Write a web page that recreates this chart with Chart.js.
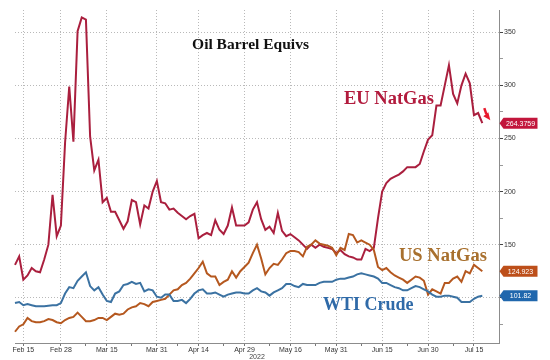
<!DOCTYPE html>
<html><head><meta charset="utf-8">
<script src="https://cdn.jsdelivr.net/npm/chart.js@4.4.1/dist/chart.umd.min.js"></script>
<style>html,body{margin:0;padding:0;background:#fff}#wrap{width:550px;height:360px;position:relative}canvas{display:block}</style>
</head><body><div id="wrap"><canvas id="c" width="550" height="360" style="width:550px;height:360px"></canvas></div>
<script>
// ---- DATA ----
const categories = [
 'Feb 11','Feb 14','Feb 15','Feb 16','Feb 17','Feb 18','Feb 21','Feb 22','Feb 23','Feb 24','Feb 25','Feb 28',
 'Mar 1','Mar 2','Mar 3','Mar 4','Mar 7','Mar 8','Mar 9','Mar 10','Mar 11','Mar 14','Mar 15','Mar 16','Mar 17','Mar 18','Mar 21','Mar 22','Mar 23','Mar 24','Mar 25','Mar 28','Mar 29','Mar 30','Mar 31',
 'Apr 1','Apr 4','Apr 5','Apr 6','Apr 7','Apr 8','Apr 11','Apr 12','Apr 13','Apr 14','Apr 15','Apr 18','Apr 19','Apr 20','Apr 21','Apr 22','Apr 25','Apr 26','Apr 27','Apr 28','Apr 29',
 'May 2','May 3','May 4','May 5','May 6','May 9','May 10','May 11','May 12','May 13','May 16','May 17','May 18','May 19','May 20','May 23','May 24','May 25','May 26','May 27','May 30','May 31',
 'Jun 1','Jun 2','Jun 3','Jun 6','Jun 7','Jun 8','Jun 9','Jun 10','Jun 13','Jun 14','Jun 15','Jun 16','Jun 17','Jun 20','Jun 21','Jun 22','Jun 23','Jun 24','Jun 27','Jun 28','Jun 29','Jun 30',
 'Jul 1','Jul 4','Jul 5','Jul 6','Jul 7','Jul 8','Jul 11','Jul 12','Jul 13','Jul 14','Jul 15','Jul 18','Jul 19','Jul 20','Jul 21','Jul 22','Jul 25'
];
const tickLabels = ['Feb 15','Feb 28','Mar 15','Mar 31','Apr 14','Apr 29','May 16','May 31','Jun 15','Jun 30','Jul 15'];
const minorTickLabels = ['Mar 8','Mar 23','Apr 7','Apr 22','May 9','May 24','Jun 8','Jun 23','Jul 8'];
const yearLabel = '2022';
const yTicks = [75,100,125,150,175,200,225,250,275,300,325,350];
const yMajorStep = 50;
const yMin = 57.4, yMax = 371;

const euNatGas = [131,139,117,121,128,125,124,136,150,197,158,168,246,299,247,351,364,362,252,220,230,190,194,181,181,173,165,172,192,190,
 169,187,184,200,210,190,189,183,184,180,177,174,177,179,156,159,161,159,173,164,160,168,185,168,168,168,171,183,190,174,
 164,167,161,180,163,158,160,157,154,150,146,150,147,150,148,147,146,142,145,141,139,138,136,136,146,144,147,175,200,208,
 212,214,216,219,223,223,223,226,238,249,253,281,281,300,319,292,283,300,311,302,272,274,264.3759];
const usNatGas = [68,73,75,81,78,77,77,78,80,79,77,76,79,81,82,86,82,78,78,79,81,81,79,82,85,84,85,89,91,92,
 95,94,92,96,97,98,99,103,107,108,112,114,118,123,128,134,123,120,120,112,115,117,125,119,125,129,133,142,150,137,
 122,128,132,131,136,142,144,144,143,139,148,150,154,151,150,149,147,140,147,145,160,159,152,154,152,150,145,129,126,128,
 124,121,119,117,114,117,120,119,116,103,108,106,104,114,114,118,120,115,125,123,131,128,124.923];
const wtiCrude = [95,96,93,94,93,92,92,92,92.5,93,93,95,104,110,109,116,120,124,111,107,110,103,97,96,104,106,112,113,115,113,
 114,106,108,107,101,100,103,103,97,97,98,95,99,104,107,108,104,104,105,103,101,103,104,105,105,104,104,107,109,106,
 105,102,105,107,109,113,113,111,110,113,112,112,112,114,115,115,115,117,118,118,119,120,122,123,122,121,120,118,114,114,
 112,110,109,107,107,109,111,110,108,106,103,101,101,102,102,101,100,96,96,96,99,101,101.82];

const seriesNames = ['WTI Crude','US NatGas','EU NatGas'];

// ---- STYLE ----
const lineColors = {wti:'#3b72a2', us:'#b5581f', eu:'#aa1f3e'};
const tagColors = ['#2067ad','#bd4f1a','#c2163c'];
const gridColor = '#b9b9b9';
const axisColor = '#8c8c8c';

const textItems = [
  {text:'Oil Barrel Equivs', color:'#111111', size:15.5, x:250.5, y:48.5, align:'center'},
  {text:'EU NatGas', color:'#b21b3d', size:18.5, x:344, y:103.5, align:'left'},
  {text:'US NatGas', color:'#a8702e', size:18.5, x:399, y:261, align:'left'},
  {text:'WTI Crude', color:'#2f6aa8', size:18, x:323, y:310, align:'left'}
];

const bgPlugin = {
  id:'bg',
  beforeDraw(chart){ const c=chart.ctx; c.save(); c.fillStyle='#fff'; c.fillRect(0,0,chart.width,chart.height); c.restore(); }
};

const overlayPlugin = {
  id:'overlay',
  afterDatasetsDraw(chart){
    const ctx = chart.ctx;
    const area = chart.chartArea;
    ctx.save();
    textItems.forEach(t => {
      ctx.font = 'bold ' + t.size + 'px "Liberation Serif", "Times New Roman", serif';
      ctx.fillStyle = t.color;
      ctx.textAlign = t.align;
      ctx.textBaseline = 'alphabetic';
      ctx.fillText(t.text, t.x, t.y);
    });
    ctx.font = '7px "Liberation Sans", Arial, sans-serif';
    ctx.fillStyle = '#444';
    ctx.textAlign = 'center';
    ctx.textBaseline = 'middle';
    ctx.fillText(yearLabel, (area.left + area.right) / 2, 357);
    chart.data.datasets.forEach((ds, di) => {
      const meta = chart.getDatasetMeta(di);
      let idx = ds.data.length - 1;
      while (idx > 0 && (ds.data[idx] === null || ds.data[idx] === undefined)) idx--;
      const pt = meta.data[idx];
      const y = pt.y;
      const x0 = area.right + 0.5;
      const h = 5.5, w = 38;
      ctx.beginPath();
      ctx.moveTo(x0, y);
      ctx.lineTo(x0 + 4, y - h);
      ctx.lineTo(x0 + w, y - h);
      ctx.lineTo(x0 + w, y + h);
      ctx.lineTo(x0 + 4, y + h);
      ctx.closePath();
      ctx.fillStyle = tagColors[di];
      ctx.fill();
      ctx.font = '7px "Liberation Sans", Arial, sans-serif';
      ctx.fillStyle = '#ffffff';
      ctx.textAlign = 'center';
      ctx.textBaseline = 'middle';
      ctx.fillText(String(ds.data[idx]), x0 + 4 + (w - 4) / 2, y + 0.5);
      if (di === 2) {
        const lx = pt.x, ly = pt.y;
        ctx.strokeStyle = '#e8192c';
        ctx.fillStyle = '#e8192c';
        ctx.lineWidth = 2.5;
        ctx.beginPath();
        ctx.moveTo(lx + 2, ly - 15);
        ctx.lineTo(lx + 4, ly - 9);
        ctx.stroke();
        ctx.beginPath();
        ctx.moveTo(lx + 8, ly - 3);
        ctx.lineTo(lx + 1, ly - 7);
        ctx.lineTo(lx + 6, ly - 11);
        ctx.closePath();
        ctx.fill();
      }
    });
    ctx.restore();
  }
};

const isMajorX = i => tickLabels.includes(categories[i]);
const isMinorX = i => minorTickLabels.includes(categories[i]);

new Chart(document.getElementById('c'), {
  type:'line',
  data:{
    labels: categories,
    datasets:[
      {label:seriesNames[0], data:wtiCrude, borderColor:lineColors.wti, borderWidth:2, pointRadius:0, tension:0, fill:false},
      {label:seriesNames[1], data:usNatGas, borderColor:lineColors.us, borderWidth:2, pointRadius:0, tension:0, fill:false},
      {label:seriesNames[2], data:euNatGas, borderColor:lineColors.eu, borderWidth:2, pointRadius:0, tension:0, fill:false}
    ]
  },
  options:{
    responsive:false,
    maintainAspectRatio:false,
    animation:false,
    devicePixelRatio:1,
    layout:{padding:{left:15, top:10, right:0, bottom:0}},
    plugins:{legend:{display:false}, tooltip:{enabled:false}, title:{display:false}},
    scales:{
      x:{
        type:'category',
        grid:{
          color: c => isMajorX(c.index) ? gridColor : 'rgba(0,0,0,0)',
          tickColor: c => (isMajorX(c.index) || isMinorX(c.index)) ? '#777' : 'rgba(0,0,0,0)',
          tickLength:3, lineWidth:1
        },
        border:{display:true, color:axisColor, width:1, dash:[1,2]},
        ticks:{
          autoSkip:false, maxRotation:0, minRotation:0, padding:0,
          font:{family:'"Liberation Sans", Arial, sans-serif', size:7}, color:'#333',
          callback:function(v, i){ return isMajorX(i) ? categories[i] : ''; }
        },
        afterFit: s => { s.height = 17; }
      },
      y:{
        type:'linear', position:'right', min:yMin, max:yMax,
        afterBuildTicks: s => { s.ticks = yTicks.map(v => ({value:v})); },
        grid:{
          color: c => (c.tick && c.tick.value % yMajorStep === 0) ? gridColor : 'rgba(0,0,0,0)',
          tickColor: c => (c.tick && c.tick.value % yMajorStep === 0) ? '#444' : '#999',
          tickLength:4, lineWidth:1
        },
        border:{display:true, color:axisColor, width:1, dash:[1,2]},
        ticks:{
          padding:1, font:{family:'"Liberation Sans", Arial, sans-serif', size:7}, color:'#333',
          callback: v => (v % yMajorStep === 0) ? String(v) : ''
        },
        afterFit: s => { s.width = 51; }
      }
    }
  },
  plugins:[bgPlugin, overlayPlugin]
});
</script>
</body></html>
